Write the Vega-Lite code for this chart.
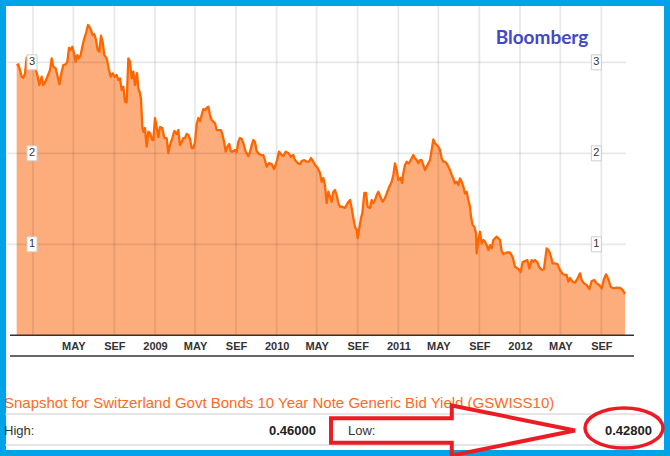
{
  "$schema": "https://vega.github.io/schema/vega-lite/v6.json",
  "width": 670,
  "height": 456,
  "padding": 0,
  "autosize": {"type": "none"},
  "background": "white",
  "datasets": {
    "yield": [
      {"date":"2007-11-13","yield":2.963},{"date":"2007-11-18","yield":2.978},{"date":"2007-11-23","yield":2.915},{"date":"2007-11-28","yield":2.842},
      {"date":"2007-12-03","yield":2.831},{"date":"2007-12-08","yield":2.879},{"date":"2007-12-13","yield":3.051},{"date":"2007-12-18","yield":2.970},
      {"date":"2007-12-25","yield":3.044},{"date":"2008-01-01","yield":3.003},{"date":"2008-01-07","yield":2.952},{"date":"2008-01-14","yield":2.860},
      {"date":"2008-01-20","yield":2.751},{"date":"2008-01-27","yield":2.842},{"date":"2008-02-01","yield":2.751},{"date":"2008-02-07","yield":2.787},
      {"date":"2008-02-13","yield":2.842},{"date":"2008-02-21","yield":2.915},{"date":"2008-02-26","yield":3.044},{"date":"2008-03-02","yield":2.952},
      {"date":"2008-03-09","yield":2.934},{"date":"2008-03-15","yield":2.842},{"date":"2008-03-20","yield":2.758},{"date":"2008-03-27","yield":2.897},
      {"date":"2008-04-01","yield":2.970},{"date":"2008-04-08","yield":2.978},{"date":"2008-04-13","yield":3.007},{"date":"2008-04-18","yield":3.160},
      {"date":"2008-04-23","yield":3.135},{"date":"2008-04-28","yield":3.171},{"date":"2008-05-03","yield":3.099},{"date":"2008-05-08","yield":3.007},
      {"date":"2008-05-13","yield":3.080},{"date":"2008-05-18","yield":3.044},{"date":"2008-05-23","yield":3.080},{"date":"2008-05-29","yield":3.190},
      {"date":"2008-06-03","yield":3.264},{"date":"2008-06-08","yield":3.319},{"date":"2008-06-14","yield":3.410},{"date":"2008-06-18","yield":3.391},
      {"date":"2008-06-23","yield":3.355},{"date":"2008-06-28","yield":3.300},{"date":"2008-07-03","yield":3.308},{"date":"2008-07-08","yield":3.245},
      {"date":"2008-07-13","yield":3.135},{"date":"2008-07-18","yield":3.116},{"date":"2008-07-23","yield":3.292},{"date":"2008-07-28","yield":3.226},
      {"date":"2008-08-02","yield":3.080},{"date":"2008-08-09","yield":3.044},{"date":"2008-08-16","yield":2.915},{"date":"2008-08-21","yield":2.842},
      {"date":"2008-08-27","yield":2.879},{"date":"2008-09-02","yield":2.842},{"date":"2008-09-08","yield":2.860},{"date":"2008-09-13","yield":2.805},
      {"date":"2008-09-18","yield":2.824},{"date":"2008-09-23","yield":2.696},{"date":"2008-09-28","yield":2.732},{"date":"2008-10-03","yield":2.567},
      {"date":"2008-10-08","yield":2.560},{"date":"2008-10-13","yield":3.044},{"date":"2008-10-18","yield":3.007},{"date":"2008-10-23","yield":2.824},
      {"date":"2008-10-28","yield":2.897},{"date":"2008-11-02","yield":2.751},{"date":"2008-11-08","yield":2.882},{"date":"2008-11-12","yield":2.714},
      {"date":"2008-11-17","yield":2.663},{"date":"2008-11-20","yield":2.597},{"date":"2008-11-24","yield":2.289},{"date":"2008-11-27","yield":2.237},
      {"date":"2008-12-02","yield":2.278},{"date":"2008-12-07","yield":2.073},{"date":"2008-12-12","yield":2.237},{"date":"2008-12-17","yield":2.223},
      {"date":"2008-12-24","yield":2.146},{"date":"2008-12-27","yield":2.146},{"date":"2009-01-01","yield":2.388},{"date":"2009-01-06","yield":2.289},
      {"date":"2009-01-11","yield":2.179},{"date":"2009-01-16","yield":2.289},{"date":"2009-01-23","yield":2.278},{"date":"2009-01-29","yield":2.168},
      {"date":"2009-02-05","yield":2.168},{"date":"2009-02-10","yield":2.003},{"date":"2009-02-15","yield":2.091},{"date":"2009-02-22","yield":2.168},
      {"date":"2009-02-28","yield":2.245},{"date":"2009-03-07","yield":2.212},{"date":"2009-03-12","yield":2.256},{"date":"2009-03-17","yield":2.091},
      {"date":"2009-03-22","yield":2.124},{"date":"2009-03-27","yield":2.168},{"date":"2009-04-01","yield":2.168},{"date":"2009-04-06","yield":2.212},
      {"date":"2009-04-11","yield":2.201},{"date":"2009-04-16","yield":2.157},{"date":"2009-04-21","yield":2.058},{"date":"2009-04-26","yield":2.058},
      {"date":"2009-05-01","yield":2.124},{"date":"2009-05-06","yield":2.322},{"date":"2009-05-11","yield":2.388},{"date":"2009-05-16","yield":2.355},
      {"date":"2009-05-21","yield":2.421},{"date":"2009-05-26","yield":2.487},{"date":"2009-05-31","yield":2.476},{"date":"2009-06-05","yield":2.498},
      {"date":"2009-06-10","yield":2.512},{"date":"2009-06-15","yield":2.421},{"date":"2009-06-20","yield":2.366},{"date":"2009-06-30","yield":2.333},
      {"date":"2009-07-05","yield":2.256},{"date":"2009-07-10","yield":2.256},{"date":"2009-07-18","yield":2.256},{"date":"2009-07-22","yield":2.212},
      {"date":"2009-07-28","yield":2.113},{"date":"2009-08-01","yield":2.018},{"date":"2009-08-07","yield":2.080},{"date":"2009-08-12","yield":2.102},
      {"date":"2009-08-16","yield":2.025},{"date":"2009-08-21","yield":2.018},{"date":"2009-08-29","yield":2.036},{"date":"2009-09-03","yield":2.014},
      {"date":"2009-09-08","yield":2.124},{"date":"2009-09-13","yield":2.168},{"date":"2009-09-18","yield":2.157},{"date":"2009-09-23","yield":2.113},
      {"date":"2009-09-30","yield":2.018},{"date":"2009-10-08","yield":1.970},{"date":"2009-10-13","yield":2.014},{"date":"2009-10-18","yield":2.091},
      {"date":"2009-10-23","yield":2.146},{"date":"2009-10-28","yield":2.124},{"date":"2009-11-02","yield":2.025},{"date":"2009-11-09","yield":1.992},
      {"date":"2009-11-17","yield":1.981},{"date":"2009-11-22","yield":1.981},{"date":"2009-11-25","yield":1.948},{"date":"2009-12-02","yield":1.853},
      {"date":"2009-12-09","yield":1.893},{"date":"2009-12-17","yield":1.882},{"date":"2009-12-24","yield":1.827},{"date":"2010-01-01","yield":1.908},
      {"date":"2010-01-08","yield":2.018},{"date":"2010-01-16","yield":1.981},{"date":"2010-01-21","yield":1.970},{"date":"2010-01-28","yield":2.018},
      {"date":"2010-02-05","yield":2.003},{"date":"2010-02-13","yield":1.963},{"date":"2010-02-20","yield":1.981},{"date":"2010-02-25","yield":1.926},
      {"date":"2010-03-05","yield":1.893},{"date":"2010-03-12","yield":1.882},{"date":"2010-03-17","yield":1.915},{"date":"2010-03-25","yield":1.926},
      {"date":"2010-04-01","yield":1.908},{"date":"2010-04-08","yield":1.908},{"date":"2010-04-14","yield":1.948},{"date":"2010-04-21","yield":1.908},
      {"date":"2010-04-26","yield":1.871},{"date":"2010-05-04","yield":1.838},{"date":"2010-05-11","yield":1.784},{"date":"2010-05-16","yield":1.688},
      {"date":"2010-05-21","yield":1.729},{"date":"2010-05-26","yield":1.652},{"date":"2010-05-31","yield":1.454},{"date":"2010-06-05","yield":1.578},
      {"date":"2010-06-10","yield":1.523},{"date":"2010-06-15","yield":1.468},{"date":"2010-06-20","yield":1.578},{"date":"2010-06-25","yield":1.597},
      {"date":"2010-06-30","yield":1.542},{"date":"2010-07-05","yield":1.454},{"date":"2010-07-10","yield":1.413},{"date":"2010-07-17","yield":1.413},
      {"date":"2010-07-25","yield":1.399},{"date":"2010-08-02","yield":1.454},{"date":"2010-08-09","yield":1.487},{"date":"2010-08-14","yield":1.399},
      {"date":"2010-08-19","yield":1.289},{"date":"2010-08-24","yield":1.193},{"date":"2010-08-29","yield":1.157},{"date":"2010-09-01","yield":1.069},
      {"date":"2010-09-05","yield":1.157},{"date":"2010-09-11","yield":1.289},{"date":"2010-09-15","yield":1.344},{"date":"2010-09-21","yield":1.564},
      {"date":"2010-09-26","yield":1.564},{"date":"2010-10-01","yield":1.413},{"date":"2010-10-08","yield":1.399},{"date":"2010-10-13","yield":1.487},
      {"date":"2010-10-18","yield":1.454},{"date":"2010-10-23","yield":1.487},{"date":"2010-10-28","yield":1.542},{"date":"2010-11-02","yield":1.578},
      {"date":"2010-11-07","yield":1.531},{"date":"2010-11-15","yield":1.468},{"date":"2010-11-22","yield":1.509},{"date":"2010-11-29","yield":1.578},
      {"date":"2010-12-05","yield":1.633},{"date":"2010-12-12","yield":1.688},{"date":"2010-12-17","yield":1.762},{"date":"2010-12-22","yield":1.890},
      {"date":"2010-12-27","yield":1.816},{"date":"2011-01-01","yield":1.707},{"date":"2011-01-08","yield":1.729},{"date":"2011-01-12","yield":1.674},
      {"date":"2011-01-16","yield":1.784},{"date":"2011-01-21","yield":1.871},{"date":"2011-01-26","yield":1.908},{"date":"2011-01-31","yield":1.890},
      {"date":"2011-02-05","yield":1.908},{"date":"2011-02-10","yield":1.945},{"date":"2011-02-15","yield":1.981},{"date":"2011-02-20","yield":1.945},
      {"date":"2011-02-25","yield":1.926},{"date":"2011-03-02","yield":1.890},{"date":"2011-03-07","yield":1.926},{"date":"2011-03-12","yield":1.926},
      {"date":"2011-03-17","yield":1.871},{"date":"2011-03-22","yield":1.816},{"date":"2011-03-27","yield":1.853},{"date":"2011-04-01","yield":1.890},
      {"date":"2011-04-06","yield":1.926},{"date":"2011-04-11","yield":2.036},{"date":"2011-04-16","yield":2.154},{"date":"2011-04-21","yield":2.110},
      {"date":"2011-04-26","yield":2.091},{"date":"2011-05-01","yield":2.073},{"date":"2011-05-06","yield":2.036},{"date":"2011-05-11","yield":1.945},
      {"date":"2011-05-16","yield":1.908},{"date":"2011-05-21","yield":1.908},{"date":"2011-05-26","yield":1.890},{"date":"2011-05-31","yield":1.853},
      {"date":"2011-06-05","yield":1.816},{"date":"2011-06-10","yield":1.762},{"date":"2011-06-15","yield":1.725},{"date":"2011-06-20","yield":1.670},
      {"date":"2011-06-25","yield":1.688},{"date":"2011-06-30","yield":1.652},{"date":"2011-07-05","yield":1.725},{"date":"2011-07-10","yield":1.688},
      {"date":"2011-07-15","yield":1.633},{"date":"2011-07-20","yield":1.560},{"date":"2011-07-25","yield":1.578},{"date":"2011-07-30","yield":1.487},
      {"date":"2011-08-04","yield":1.413},{"date":"2011-08-07","yield":1.303},{"date":"2011-08-12","yield":1.212},{"date":"2011-08-17","yield":1.193},
      {"date":"2011-08-22","yield":1.121},{"date":"2011-08-24","yield":0.901},{"date":"2011-08-29","yield":1.047},{"date":"2011-09-03","yield":1.138},
      {"date":"2011-09-08","yield":1.011},{"date":"2011-09-13","yield":1.047},{"date":"2011-09-18","yield":1.029},{"date":"2011-09-23","yield":0.992},
      {"date":"2011-09-28","yield":0.937},{"date":"2011-10-03","yield":0.992},{"date":"2011-10-08","yield":0.956},{"date":"2011-10-13","yield":1.047},
      {"date":"2011-10-18","yield":1.066},{"date":"2011-10-23","yield":1.084},{"date":"2011-10-28","yield":1.066},{"date":"2011-11-02","yield":1.047},
      {"date":"2011-11-07","yield":0.926},{"date":"2011-11-12","yield":0.893},{"date":"2011-11-22","yield":0.910},{"date":"2011-12-02","yield":0.910},
      {"date":"2011-12-10","yield":0.860},{"date":"2011-12-17","yield":0.754},{"date":"2011-12-27","yield":0.729},{"date":"2012-01-03","yield":0.696},
      {"date":"2012-01-09","yield":0.805},{"date":"2012-01-16","yield":0.816},{"date":"2012-01-23","yield":0.827},{"date":"2012-01-29","yield":0.736},
      {"date":"2012-02-05","yield":0.827},{"date":"2012-02-10","yield":0.809},{"date":"2012-02-15","yield":0.827},{"date":"2012-02-22","yield":0.805},
      {"date":"2012-02-27","yield":0.754},{"date":"2012-03-06","yield":0.718},{"date":"2012-03-13","yield":0.729},{"date":"2012-03-21","yield":0.956},
      {"date":"2012-03-26","yield":0.937},{"date":"2012-03-31","yield":0.901},{"date":"2012-04-08","yield":0.791},{"date":"2012-04-15","yield":0.791},
      {"date":"2012-04-22","yield":0.784},{"date":"2012-04-30","yield":0.718},{"date":"2012-05-08","yield":0.674},{"date":"2012-05-15","yield":0.663},
      {"date":"2012-05-20","yield":0.663},{"date":"2012-05-25","yield":0.589},{"date":"2012-05-30","yield":0.630},{"date":"2012-06-07","yield":0.589},
      {"date":"2012-06-14","yield":0.580},{"date":"2012-06-21","yield":0.619},{"date":"2012-06-29","yield":0.681},{"date":"2012-07-04","yield":0.608},
      {"date":"2012-07-11","yield":0.571},{"date":"2012-07-19","yield":0.553},{"date":"2012-07-27","yield":0.509},{"date":"2012-08-03","yield":0.597},
      {"date":"2012-08-11","yield":0.608},{"date":"2012-08-18","yield":0.571},{"date":"2012-08-26","yield":0.553},{"date":"2012-09-02","yield":0.516},
      {"date":"2012-09-09","yield":0.619},{"date":"2012-09-15","yield":0.670},{"date":"2012-09-22","yield":0.619},{"date":"2012-09-29","yield":0.534},
      {"date":"2012-10-07","yield":0.516},{"date":"2012-10-17","yield":0.525},{"date":"2012-10-27","yield":0.520},{"date":"2012-11-04","yield":0.498},
      {"date":"2012-11-11","yield":0.454}
    ],
    "ticks": [
      {"tick":"2008-01-01"},{"tick":"2008-05-01"},{"tick":"2008-09-01"},
      {"tick":"2009-01-01"},{"tick":"2009-05-01"},{"tick":"2009-09-01"},
      {"tick":"2010-01-01"},{"tick":"2010-05-01"},{"tick":"2010-09-01"},
      {"tick":"2011-01-01"},{"tick":"2011-05-01"},{"tick":"2011-09-01"},
      {"tick":"2012-01-01"},{"tick":"2012-05-01"},{"tick":"2012-09-01"}
    ],
    "levels": [{"level":1},{"level":2},{"level":3}],
    "one": [{}]
  },
  "layer": [
    {
      "data": {"name": "yield"},
      "mark": {"type": "area", "color": "#fdad7c"},
      "encoding": {
        "x": {
          "field": "date",
          "type": "temporal",
          "scale": {
            "type": "utc",
            "nice": false,
            "domain": [
              {"year": 2007, "month": 9, "date": 24, "utc": true},
              {"year": 2013, "month": 3, "date": 26, "utc": true}
            ]
          },
          "axis": {
            "title": null,
            "offset": -120,
            "domain": false,
            "ticks": false,
            "tickSize": 0,
            "grid": false,
            "labelPadding": 4,
            "labelFont": "Liberation Sans Narrow, Liberation Sans",
            "labelFontSize": 11,
            "labelFontWeight": "bold",
            "labelColor": "#333333",
            "labelOverlap": false,
            "values": [
              {"year": 2008, "month": 5, "date": 1, "utc": true},
              {"year": 2008, "month": 9, "date": 1, "utc": true},
              {"year": 2009, "month": 1, "date": 1, "utc": true},
              {"year": 2009, "month": 5, "date": 1, "utc": true},
              {"year": 2009, "month": 9, "date": 1, "utc": true},
              {"year": 2010, "month": 1, "date": 1, "utc": true},
              {"year": 2010, "month": 5, "date": 1, "utc": true},
              {"year": 2010, "month": 9, "date": 1, "utc": true},
              {"year": 2011, "month": 1, "date": 1, "utc": true},
              {"year": 2011, "month": 5, "date": 1, "utc": true},
              {"year": 2011, "month": 9, "date": 1, "utc": true},
              {"year": 2012, "month": 1, "date": 1, "utc": true},
              {"year": 2012, "month": 5, "date": 1, "utc": true},
              {"year": 2012, "month": 9, "date": 1, "utc": true}
            ],
            "labelExpr": "utcFormat(datum.value, '%m') == '01' ? utcFormat(datum.value, '%Y') : (utcFormat(datum.value, '%m') == '05' ? 'MAY' : 'SEF')"
          }
        },
        "y": {
          "field": "yield",
          "type": "quantitative",
          "scale": {"domain": [-1.326, 3.685], "nice": false, "zero": false},
          "axis": null
        },
        "y2": {"datum": 0}
      }
    },
    {
      "data": {"name": "ticks"},
      "mark": {"type": "rule", "color": "#000000", "opacity": 0.09, "strokeWidth": 1.8},
      "encoding": {
        "x": {"field": "tick", "type": "temporal"},
        "y": {"datum": 0},
        "y2": {"datum": 3.62}
      }
    },
    {
      "data": {"name": "levels"},
      "mark": {"type": "rule", "color": "#000000", "opacity": 0.09, "strokeWidth": 1.8},
      "encoding": {
        "y": {"field": "level", "type": "quantitative"},
        "x": {"datum": {"year": 2007, "month": 10, "date": 14, "utc": true}},
        "x2": {"datum": {"year": 2012, "month": 11, "date": 14, "utc": true}}
      }
    },
    {
      "data": {"name": "yield"},
      "mark": {"type": "line", "color": "#ff6600", "strokeWidth": 2.3, "strokeJoin": "round"},
      "encoding": {
        "x": {"field": "date", "type": "temporal"},
        "y": {"field": "yield", "type": "quantitative"}
      }
    },
    {
      "data": {"name": "one"},
      "mark": {"type": "rule", "color": "#333333", "strokeWidth": 1.5},
      "encoding": {
        "x": {"datum": {"year": 2007, "month": 10, "date": 24, "utc": true}},
        "x2": {"datum": {"year": 2012, "month": 12, "date": 8, "utc": true}},
        "y": {"datum": 0}
      }
    },
    {
      "data": {"name": "one"},
      "mark": {"type": "rule", "color": "#333333", "strokeWidth": 1.5},
      "encoding": {
        "x": {"datum": {"year": 2007, "month": 10, "date": 24, "utc": true}},
        "x2": {"datum": {"year": 2012, "month": 12, "date": 8, "utc": true}},
        "y": {"datum": -0.227}
      }
    },
    {
      "data": {"name": "levels"},
      "mark": {"type": "point", "shape": "M-0.667,-1H0.667V1H-0.667Z", "size": 225, "filled": true, "fill": "white", "stroke": "#cccccc", "strokeWidth": 1, "opacity": 1},
      "encoding": {
        "x": {"datum": {"year": 2007, "month": 12, "date": 29, "utc": true}},
        "y": {"field": "level", "type": "quantitative"}
      }
    },
    {
      "data": {"name": "levels"},
      "mark": {"type": "text", "font": "Liberation Sans", "fontSize": 11, "color": "#333333", "baseline": "middle", "align": "center"},
      "encoding": {
        "x": {"datum": {"year": 2007, "month": 12, "date": 29, "utc": true}},
        "y": {"field": "level", "type": "quantitative"},
        "text": {"field": "level"}
      }
    },
    {
      "data": {"name": "levels"},
      "mark": {"type": "point", "shape": "M-0.667,-1H0.667V1H-0.667Z", "size": 225, "filled": true, "fill": "white", "stroke": "#cccccc", "strokeWidth": 1, "opacity": 1},
      "encoding": {
        "x": {"datum": {"year": 2012, "month": 8, "date": 17, "utc": true}},
        "y": {"field": "level", "type": "quantitative"}
      }
    },
    {
      "data": {"name": "levels"},
      "mark": {"type": "text", "font": "Liberation Sans", "fontSize": 11, "color": "#333333", "baseline": "middle", "align": "center"},
      "encoding": {
        "x": {"datum": {"year": 2012, "month": 8, "date": 17, "utc": true}},
        "y": {"field": "level", "type": "quantitative"},
        "text": {"field": "level"}
      }
    },
    {
      "data": {"name": "one"},
      "mark": {"type": "text", "font": "Lato", "fontSize": 19, "fontWeight": "bold", "color": "#4248c8", "align": "center", "baseline": "middle"},
      "encoding": {
        "x": {"datum": {"year": 2012, "month": 3, "date": 7, "utc": true}},
        "y": {"datum": 3.267},
        "text": {"value": "Bloomberg"}
      }
    },
    {
      "data": {"name": "one"},
      "mark": {"type": "text", "font": "Liberation Sans", "fontSize": 15, "color": "#ff6a22", "align": "left", "baseline": "alphabetic"},
      "encoding": {
        "x": {"datum": {"year": 2007, "month": 10, "date": 6, "utc": true}},
        "y": {"datum": -0.799},
        "text": {"value": "Snapshot for Switzerland Govt Bonds 10 Year Note Generic Bid Yield (GSWISS10)"}
      }
    },
    {
      "data": {"name": "one"},
      "mark": {"type": "rule", "color": "#cccccc", "strokeWidth": 1},
      "encoding": {
        "x": {"datum": {"year": 2007, "month": 10, "date": 9, "utc": true}},
        "x2": {"datum": {"year": 2013, "month": 2, "date": 3, "utc": true}},
        "y": {"datum": -0.865}
      }
    },
    {
      "data": {"name": "one"},
      "mark": {"type": "rule", "color": "#cccccc", "strokeWidth": 1},
      "encoding": {
        "x": {"datum": {"year": 2007, "month": 10, "date": 9, "utc": true}},
        "x2": {"datum": {"year": 2013, "month": 2, "date": 3, "utc": true}},
        "y": {"datum": -1.205}
      }
    },
    {
      "data": {"name": "one"},
      "mark": {"type": "text", "font": "Liberation Sans", "fontSize": 13, "color": "#333333", "align": "left", "baseline": "alphabetic"},
      "encoding": {
        "x": {"datum": {"year": 2007, "month": 10, "date": 6, "utc": true}},
        "y": {"datum": -1.096},
        "text": {"value": "High:"}
      }
    },
    {
      "data": {"name": "one"},
      "mark": {"type": "text", "font": "Liberation Sans", "fontSize": 13, "fontWeight": "bold", "color": "#222222", "align": "right", "baseline": "alphabetic"},
      "encoding": {
        "x": {"datum": {"year": 2010, "month": 4, "date": 29, "utc": true}},
        "y": {"datum": -1.096},
        "text": {"value": "0.46000"}
      }
    },
    {
      "data": {"name": "one"},
      "mark": {"type": "text", "font": "Liberation Sans", "fontSize": 13, "color": "#333333", "align": "left", "baseline": "alphabetic"},
      "encoding": {
        "x": {"datum": {"year": 2010, "month": 8, "date": 3, "utc": true}},
        "y": {"datum": -1.096},
        "text": {"value": "Low:"}
      }
    },
    {
      "data": {"name": "one"},
      "mark": {"type": "text", "font": "Liberation Sans", "fontSize": 13, "fontWeight": "bold", "color": "#222222", "align": "right", "baseline": "alphabetic"},
      "encoding": {
        "x": {"datum": {"year": 2013, "month": 1, "date": 31, "utc": true}},
        "y": {"datum": -1.096},
        "text": {"value": "0.42800"}
      }
    },
    {
      "data": {"name": "one"},
      "mark": {"type": "point", "shape": "M-1,-0.1L-0.01,-0.1L-0.01,-0.205L1,0L-0.01,0.205L-0.01,0.1L-1,0.1Z", "size": 59536, "filled": false, "stroke": "#ed1c24", "strokeWidth": 4, "opacity": 1, "strokeJoin": "miter"},
      "encoding": {
        "x": {"datum": {"year": 2011, "month": 6, "date": 14, "utc": true}},
        "y": {"datum": -1.046}
      }
    },
    {
      "data": {"name": "one"},
      "mark": {"type": "point", "shape": "M-1,0A1,0.513 0 1,1 1,0A1,0.513 0 1,1 -1,0Z", "size": 6084, "filled": false, "stroke": "#ed1c24", "strokeWidth": 3.5, "opacity": 1},
      "encoding": {
        "x": {"datum": {"year": 2012, "month": 11, "date": 8, "utc": true}},
        "y": {"datum": -1.019}
      }
    }
  ],
  "config": {
    "view": {"stroke": "#00a2e8", "strokeWidth": 12},
    "axisY": {"disable": true}
  }
}
